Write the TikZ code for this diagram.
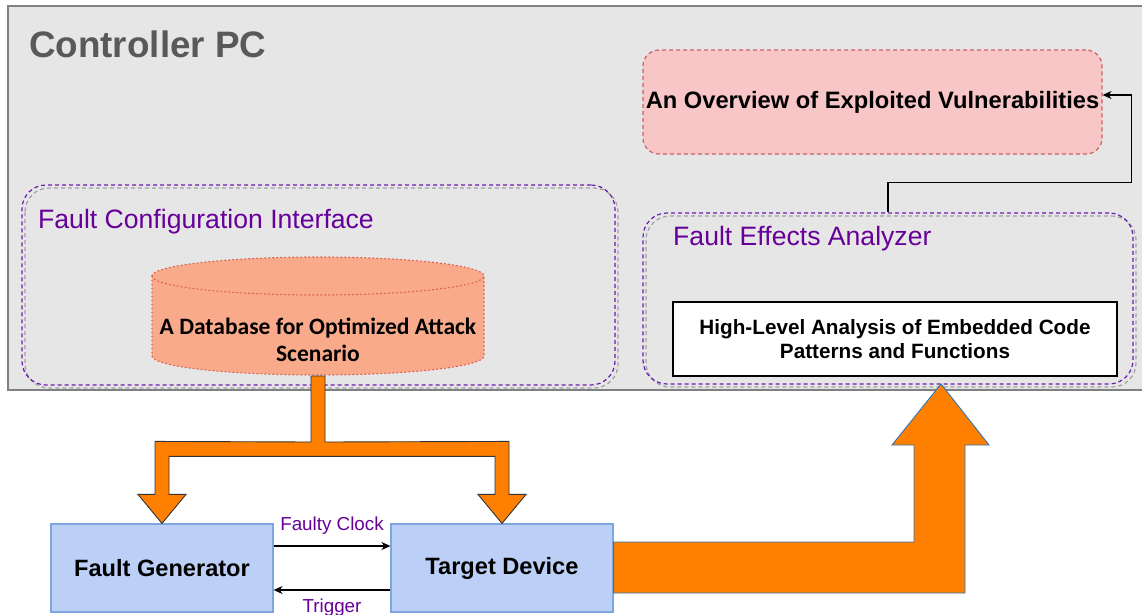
\documentclass[tikz,border=0pt]{standalone}
\usepackage{fontspec}
\setmainfont{Liberation Sans}
\newfontfamily\calfont{Carlito}
\usetikzlibrary{calc,arrows.meta}
\definecolor{pcbg}{HTML}{E6E6E6}
\definecolor{pcline}{HTML}{808080}
\definecolor{titlegray}{HTML}{595959}
\definecolor{purp}{HTML}{660099}
\definecolor{purpline}{HTML}{6A1BB0}
\definecolor{shadowgray}{HTML}{A0A0A0}
\definecolor{pinkfill}{HTML}{F8C6C6}
\definecolor{pinkline}{HTML}{D06060}
\definecolor{dbfill}{HTML}{F9AA8B}
\definecolor{dbline}{HTML}{E0604A}
\definecolor{bluefill}{HTML}{BCD0F7}
\definecolor{blueline}{HTML}{7EA6E0}
\definecolor{orng}{HTML}{FF8000}
\definecolor{arrblue}{HTML}{2E75B6}
\tikzset{
  x=1pt,y=-1pt,
  container/.style={draw=purpline,line width=1.2pt,dash pattern=on 4pt off 3pt,rounded corners=24pt,minimum width=#1},
  shadowbox/.style={draw=shadowgray,line width=1.2pt,dash pattern=on 4pt off 3pt,rounded corners=24pt},
  grouplabel/.style={text=purp,font=\fontsize{26.6}{30}\selectfont,anchor=base west,inner sep=0pt},
  bluebox/.style={draw=blueline,fill=bluefill,line width=1.2pt,minimum width=222pt,minimum height=88pt,font=\bfseries\fontsize{23.6}{26}\selectfont},
  sigline/.style={line width=1.2pt,-{Stealth[length=9pt,width=8pt]}},
  siglabel/.style={text=purp,font=\fontsize{18.8}{22}\selectfont,inner sep=0pt},
  fatarrow/.style={fill=orng,draw=#1,line width=0.9pt,line join=miter},
}
\begin{document}
\begin{tikzpicture}
\useasboundingbox (0,0) rectangle (1142,614);
% Controller PC area
\draw[pcline,fill=pcbg,line width=1.5pt] (8,6) rectangle (1160,390);
\node[text=titlegray,font=\bfseries\fontsize{36.8}{40}\selectfont,anchor=base west,inner sep=0pt] (title) at (29,57) {Controller PC};

% Fault Configuration Interface container
\draw[shadowbox] (25,188) rectangle (618,388);
\node[container=593pt,minimum height=200pt] (fci) at (318.5,285) {};
\node[grouplabel] (fcilabel) at (38,228) {Fault Configuration Interface};

% Fault Effects Analyzer container
\draw[shadowbox] (646,216) rectangle (1136,387);
\node[container=490pt,minimum height=171pt] (fea) at (888,298.5) {};
\node[grouplabel] (fealabel) at (673,245) {Fault Effects Analyzer};

% Overview box
\node[draw=pinkline,fill=pinkfill,line width=1.2pt,dash pattern=on 4pt off 3pt,rounded corners=16pt,
      minimum width=459pt,minimum height=104pt,inner sep=0pt,
      font=\bfseries\fontsize{23.7}{27}\selectfont] (ov) at (872.5,102) {An Overview of Exploited Vulnerabilities};

% High-level analysis box
\node[draw=black,fill=white,line width=1.3pt,minimum width=444pt,minimum height=74pt,align=center,
      font=\bfseries\fontsize{20.7}{24}\selectfont] (hl) at (895,339) {High-Level Analysis of Embedded Code\\Patterns and Functions};

% Database cylinder
\path[fill=dbfill,draw=dbline,line width=1.2pt,dash pattern=on 1pt off 3pt,line cap=round]
  (152,276) arc[start angle=180,end angle=360,x radius=166,y radius=19]
  -- (484,356) arc[start angle=0,end angle=180,x radius=166,y radius=19] -- cycle;
\draw[dbline,line width=1.2pt,dash pattern=on 1pt off 3pt,line cap=round]
  (152,276) arc[start angle=180,end angle=0,x radius=166,y radius=19];
\node[font=\calfont\bfseries\fontsize{23.5}{26.5}\selectfont,align=center,inner sep=0pt] (db) at (318,340)
  {A Database for Optimized Attack\\Scenario};
\coordinate (dbbottom) at (318,376);

% Bottom devices
\node[bluebox] (fg) at (162,568) {Fault Generator};
\node[bluebox] (td) at (502,568) {Target Device};

% Signals
\draw[sigline] ($(fg.east)+(0,-22)$) -- ($(td.west)+(0,-22)$)
  node[siglabel,midway,above=11pt] (fclabel) {Faulty Clock};
\draw[sigline] ($(td.west)+(0,22)$) -- ($(fg.east)+(0,22)$)
  node[siglabel,midway,below=8pt] (trlabel) {Trigger};

% Split orange arrow from database
\draw[fatarrow=black!80]
  ($(dbbottom)+(-7,0)$) -- ($(dbbottom)+(7,0)$) -- ($(dbbottom)+(7,66)$)
  -- ($(td.north)+(7,-82)$) -- ($(td.north)+(7,-29)$) -- ($(td.north)+(24,-29)$)
  -- (td.north) -- ($(td.north)+(-24,-29)$) -- ($(td.north)+(-7,-29)$)
  -- ($(td.north)+(-7,-67)$) -- ($(fg.north)+(7,-67)$) -- ($(fg.north)+(7,-29)$)
  -- ($(fg.north)+(24,-29)$) -- (fg.north) -- ($(fg.north)+(-24,-29)$)
  -- ($(fg.north)+(-7,-29)$) -- ($(fg.north)+(-7,-82)$) -- ($(dbbottom)+(-7,66)$) -- cycle;

% Big orange arrow from target device to analyzer
\coordinate (tip) at (941,384);
\draw[fatarrow=arrblue]
  ($(td.east)+(0,-26)$) -- ($(tip)+(-27,158)$) -- ($(tip)+(-27,61)$) -- ($(tip)+(-49,61)$)
  -- (tip) -- ($(tip)+(48,61)$) -- ($(tip)+(24,61)$) -- ($(tip)+(24,209)$)
  -- ($(td.east)+(0,25)$) -- cycle;

% Connector analyzer -> overview
\draw[line width=1.1pt,-{Stealth[length=9pt,width=8pt]}]
  (fea.north) -- ++(0,-30) -| ($(ov.east)+(29,-7)$) -- ($(ov.east)+(0,-7)$);
\end{tikzpicture}
\end{document}
